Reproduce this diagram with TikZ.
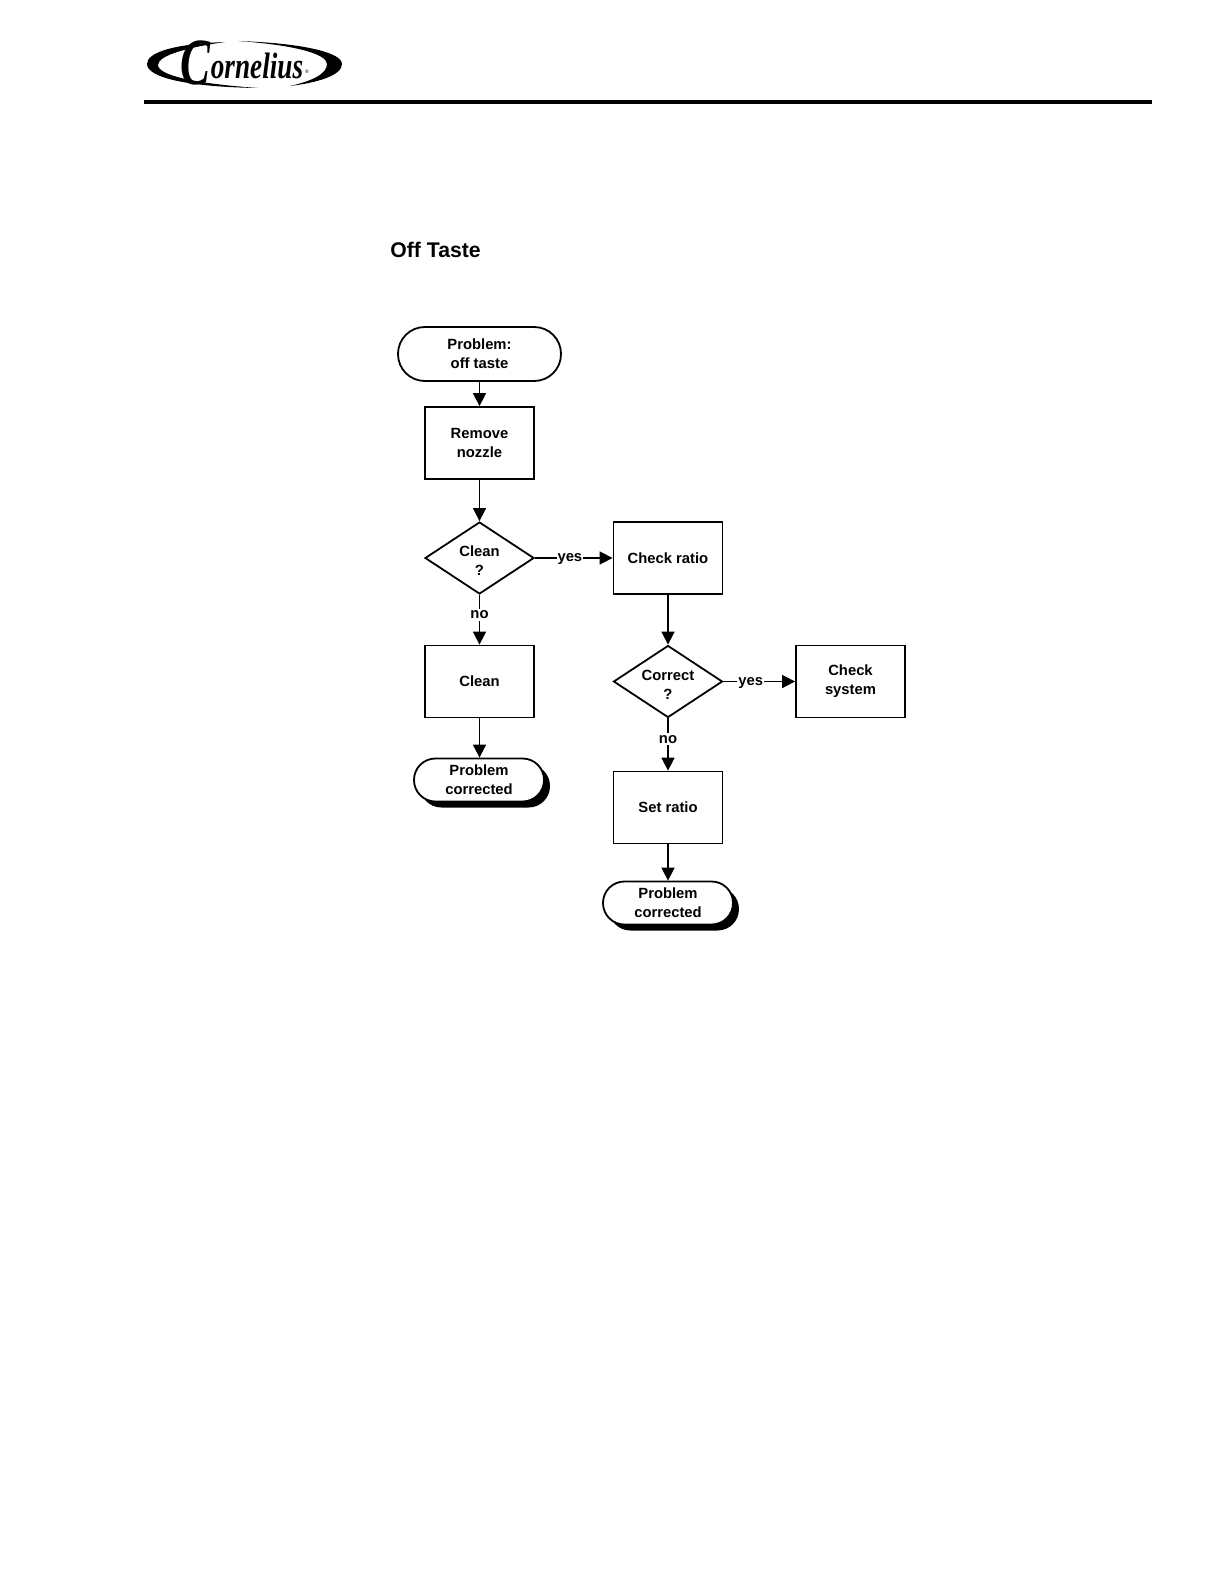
\documentclass[tikz,border=0pt]{standalone}
\usepackage{fontspec}
\setmainfont{Liberation Sans}
\newfontfamily\logofont{Liberation Serif}
\usetikzlibrary{arrows.meta}
\usetikzlibrary{shapes.geometric}
\usetikzlibrary{shadows}
\newcommand{\boxwd}{54.5pt}
\newcommand{\boxht}{36pt}
\newcommand{\lowered}[1]{\raisebox{-3.85pt}[0pt][0pt]{\begin{tabular}{@{}c@{}}#1\end{tabular}}}
\tikzset{flowtext/.style={font=\fontsize{7.4}{9.5}\selectfont\bfseries, align=center, inner sep=0pt}}
\tikzset{procbox/.style={flowtext, rectangle, draw, line width=0.9pt, minimum width=\boxwd, minimum height=\boxht}}
\tikzset{decbox/.style={flowtext, diamond, draw, line width=0.9pt, aspect=1.5, minimum width=\boxwd, minimum height=\boxht}}
\tikzset{startbox/.style={flowtext, rectangle, rounded corners=13.4pt, draw, line width=0.9pt, minimum width=81.5pt, minimum height=27pt}}
\tikzset{endbox/.style={flowtext, rectangle, rounded corners=10.7pt, draw, fill=white, line width=0.9pt, minimum width=65pt, minimum height=21.5pt, drop shadow={shadow xshift=3pt, shadow yshift=-3pt, fill=black, opacity=1}}}
\tikzset{flowarr/.style={-{Triangle[length=6.5pt,width=6.5pt]}, line width=0.8pt}}
\tikzset{arrlabel/.style={flowtext, fill=white, inner xsep=0.5pt, inner ysep=1pt, yshift=-0.7pt}}

\begin{document}
\begin{tikzpicture}[x=0.5pt,y=-0.5pt]
\useasboundingbox (0,0) rectangle (1224,1584);

% logo
\fill (225,42) .. controls (175,44) and (147,52) .. (147,64) .. controls (147,78) and (190,87) .. (258,88) .. controls (200,84) and (158,76) .. (158,65) .. controls (158,55) and (190,47) .. (225,42) -- cycle;
\fill (238,41) .. controls (300,43) and (342,52) .. (342,64) .. controls (342,76) and (315,83) .. (290,86) .. controls (312,81) and (327,74) .. (327,64) .. controls (327,54) and (295,45) .. (238,41) -- cycle;
\node[font=\logofont\itshape\bfseries\fontsize{33}{33}\selectfont, inner sep=0pt, xscale=0.68] (logoC) at (195,63) {C};
\node[font=\logofont\itshape\bfseries\fontsize{13.6}{14}\selectfont, inner sep=0pt, yscale=1.35] (logoname) at (257,66) {ornelius};
\node[font=\fontsize{2.5}{3}\selectfont, inner sep=0pt] (logoreg) at (307,72) {®};

% rule
\fill (144,100) rectangle (1152,104);

\node[font=\fontsize{10.6}{12}\selectfont\bfseries, anchor=west, inner sep=0pt] (title) at (390,250) {Off Taste};

% left column
\node[startbox] (problem) at (479.5,354) {Problem:\\off taste};
\node[procbox] (remove) at (479.5,443) {Remove\\nozzle};
\node[decbox] (cleanq) at (479.5,558) {\lowered{Clean\\?}};
\node[procbox] (clean) at (479.5,681.5) {Clean};
\node[endbox] (endleft) at (479,780) {Problem\\corrected};

% right column
\node[procbox] (check) at (668,558) {Check ratio};
\node[decbox] (correctq) at (668,681.5) {\lowered{Correct\\?}};
\node[procbox] (system) at (850.5,681.5) {Check\\system};
\node[procbox] (setratio) at (668,807.5) {Set ratio};
\node[endbox] (endright) at (668,903) {Problem\\corrected};

\draw[flowarr] (problem) -- (remove);
\draw[flowarr] (remove) -- (cleanq);
\draw[flowarr] (cleanq) -- node[arrlabel, pos=0.37] (no1) {no} (clean);
\draw[flowarr] (clean) -- (endleft.north -| clean);
\draw[flowarr] (cleanq) -- node[arrlabel, pos=0.45] (yes1) {yes} (check);
\draw[flowarr] (check) -- (correctq);
\draw[flowarr] (correctq) -- node[arrlabel, pos=0.37] (no2) {no} (setratio);
\draw[flowarr] (setratio) -- (endright);
\draw[flowarr] (correctq) -- node[arrlabel, pos=0.38] (yes2) {yes} (system);

\end{tikzpicture}
\end{document}
